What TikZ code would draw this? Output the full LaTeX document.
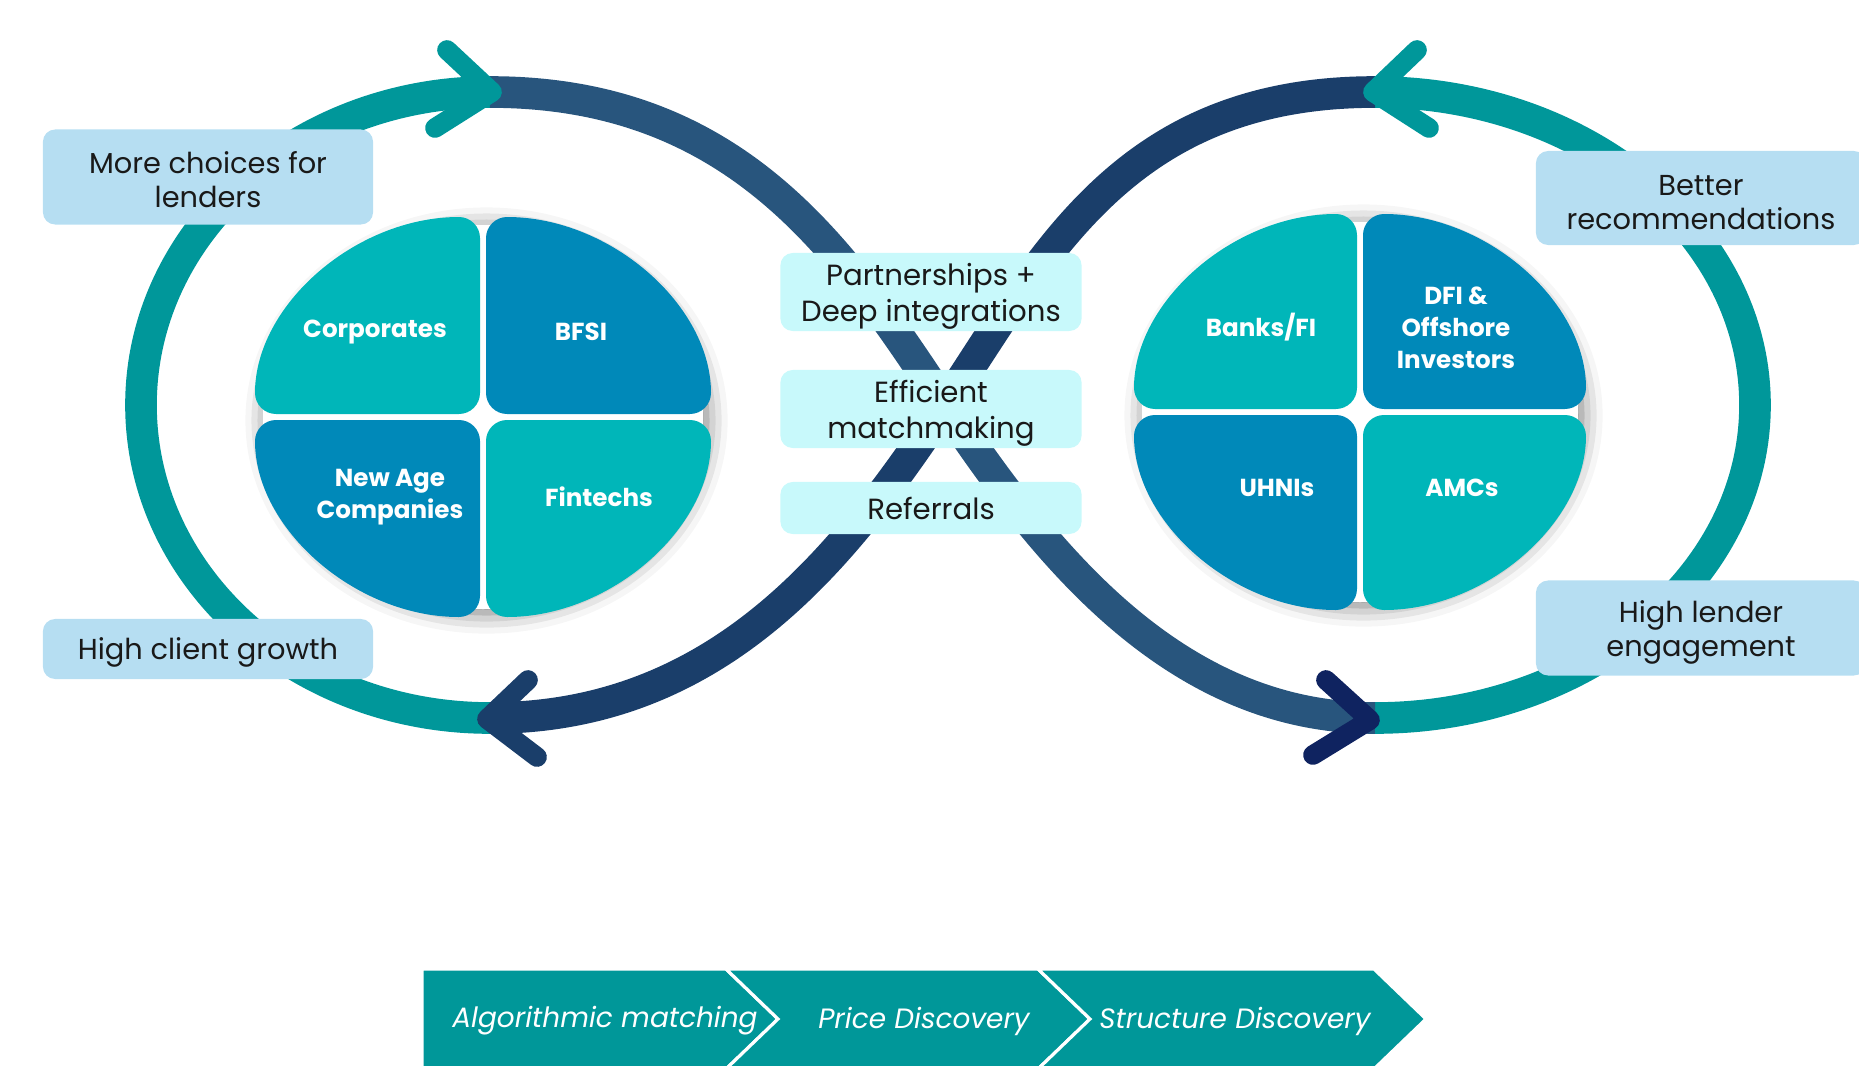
\documentclass[tikz,border=0pt]{standalone}
\usepackage{fontspec}
\setmainfont{Poppins}
\usetikzlibrary{shadows.blur}
\definecolor{ringteal}{HTML}{00979A}
\definecolor{navyA}{HTML}{28557D}
\definecolor{navyB}{HTML}{1A3E6A}
\definecolor{navyC}{HTML}{0F2360}
\definecolor{qteal}{HTML}{00B6B9}
\definecolor{qblue}{HTML}{0089B9}
\definecolor{boxblue}{HTML}{B6DEF2}
\definecolor{boxcyan}{HTML}{C8F9FB}
\definecolor{barteal}{HTML}{009799}
\begin{document}
\begin{tikzpicture}[x=0.01cm, y=-0.01cm,
    ring/.style={line width=9pt},
    chevtip/.style={line width=5.6pt, line cap=round, line join=round},
    textdrop/.style={execute at begin node={\rule{0pt}{#1}}},
    sidebox/.style={fill=boxblue, rounded corners=3.5pt, minimum width=3.3cm, align=center, inner sep=0pt, text=black!90, font=\fontsize{8.2}{9.7}\selectfont},
    midbox/.style={fill=boxcyan, rounded corners=3.5pt, minimum width=3.01cm, align=center, inner sep=0pt, text=black!90, font=\fontsize{8.3}{10}\selectfont},
    qlabel/.style={text=white, align=center, font=\bfseries\fontsize{7.0}{9.1}\selectfont},
    barlabel/.style={text=white, font=\itshape\fontsize{7.95}{10}\selectfont},
    seg/.style={fill=barteal, draw=white, line width=0.9pt}]
  \useasboundingbox (0,0) rectangle (1859,1066);
  \coordinate (LT) at (490,92);
  \coordinate (LB) at (490,718);
  \coordinate (RT) at (1375,92);
  \coordinate (RB) at (1375,718);
  \coordinate (X) at (945,405);
  % outer loops
  \draw[ring, ringteal] (LT) arc[start angle=270, end angle=90, x radius=349, y radius=313];
  \draw[ring, ringteal] (RT) arc[start angle=-90, end angle=90, x radius=380, y radius=313];
  \draw[ring, navyB] (RT) .. controls +(-250,0) and +(100,-150) .. (X) .. controls +(-100,150) and +(230,0) .. (LB);
  \draw[ring, navyA] (LT) .. controls +(250,0) and +(-100,-150) .. (X) .. controls +(100,150) and +(-200,0) .. (RB);
  % arrow heads
  \draw[chevtip, ringteal] (447,50) -- (492,92) -- (435,128);
  \draw[chevtip, ringteal] (1417,50) -- (1373,92) -- (1429,128);
  \draw[chevtip, navyB] (528,680) -- (487,719) -- (537,757);
  \draw[chevtip, navyC] (1326,680) -- (1370,720) -- (1313,755);
  % quadrant discs
  \foreach \cx/\cy/\ra/\rb in {483/417/228/200, 1360/412/226/198}{
    \fill[white, blur shadow={shadow xshift=1pt, shadow yshift=-1pt, shadow blur radius=6pt, shadow opacity=55}]
      (\cx,\cy) ellipse[x radius=\ra-8, y radius=\rb-8];
    \foreach \sx/\sy/\col in {-1/-1/qteal, 1/-1/qblue, -1/1/qblue, 1/1/qteal}
      \fill[\col, rounded corners=6pt, shift={(\cx,\cy)}, xscale=\sx, yscale=\sy]
        (3,3) -- (3,\rb) arc[start angle=90, end angle=0, x radius=\ra-3, y radius=\rb-3] -- cycle;
  }
  \node[qlabel] (corp) at (375,332) {Corporates};
  \node[qlabel] (bfsi) at (581,332) {BFSI};
  \node[qlabel] (newage) at (390,497) {New Age\\Companies};
  \node[qlabel] (fintech) at (599,497) {Fintechs};
  \node[qlabel] (banks) at (1261,327) {Banks/FI};
  \node[qlabel] (dfi) at (1456,328) {DFI \&\\Offshore\\Investors};
  \node[qlabel] (uhni) at (1277,488) {UHNIs};
  \node[qlabel] (amc) at (1462,488) {AMCs};
  % side boxes
  \node[sidebox, textdrop=17.4pt, minimum height=0.95cm] (choices) at (208,177) {More choices for\\lenders};
  \node[sidebox, textdrop=8.4pt, minimum height=0.60cm] (growth) at (208,649) {High client growth};
  \node[sidebox, textdrop=17.8pt, minimum height=0.94cm] (recomm) at (1701,198) {Better\\recommendations};
  \node[sidebox, textdrop=18.3pt, minimum height=0.95cm] (engage) at (1701,628) {High lender\\engagement};
  \node[midbox, textdrop=18.8pt, minimum height=0.78cm] (partner) at (931,292) {Partnerships +\\Deep integrations};
  \node[midbox, textdrop=18.8pt, minimum height=0.78cm] (matchmk) at (931,409) {Efficient\\matchmaking};
  \node[midbox, minimum height=0.52cm] (referral) at (931,508) {Referrals};
  % process bar
  \foreach \xl/\xr/\nt in {422/726/0, 726/1038/52, 1038/1374/52}
    \filldraw[seg] (\xl,969) -- (\xr,969) -- (\xr+52,1019) -- (\xr,1069) -- (\xl,1069) -- (\xl+\nt,1019) -- cycle;
  \node[barlabel] (algo) at (605,1021) {Algorithmic matching};
  \node[barlabel] (price) at (924,1021) {Price Discovery};
  \node[barlabel] (struct) at (1235,1021) {Structure Discovery};
\end{tikzpicture}
\end{document}
